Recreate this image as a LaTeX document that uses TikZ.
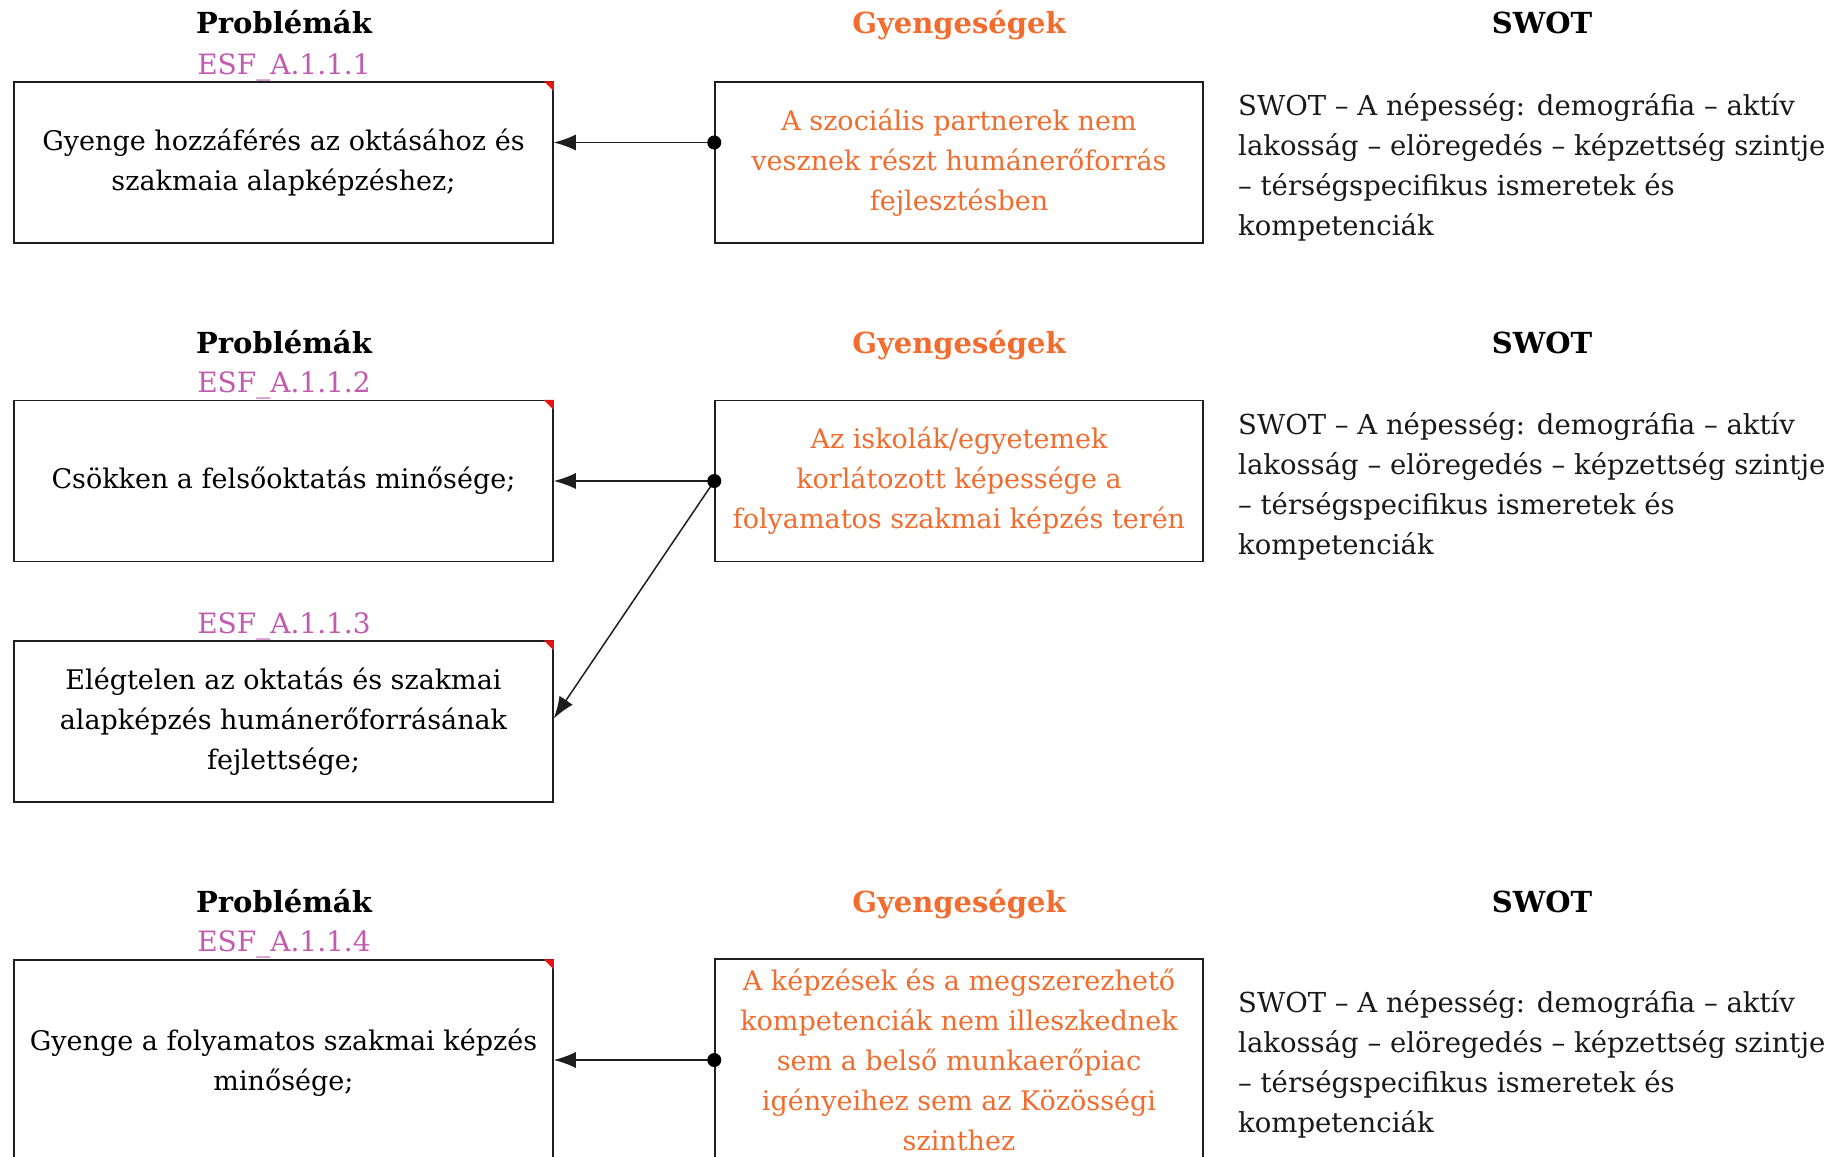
\documentclass[tikz,border=0pt]{standalone}
\usepackage{fontspec}
\setmainfont{DejaVu Serif}
\usetikzlibrary{arrows.meta}
\definecolor{orng}{RGB}{242,108,46}
\definecolor{mag}{RGB}{194,90,176}
\definecolor{redc}{RGB}{232,20,20}
\definecolor{edge}{RGB}{30,30,30}
\tikzset{
  body/.style={font=\fontsize{27}{40}\selectfont},
  probbox/.style={body, draw=edge, line width=1.5pt, minimum width=539pt, minimum height=161pt, inner sep=0pt, align=center, text=black},
  weakbox/.style={body, draw=edge, line width=1.5pt, minimum width=488pt, minimum height=161pt, inner sep=0pt, align=center, text=orng},
  swottext/.style={font=\fontsize{27.5}{40}\selectfont, anchor=north west, align=left, inner sep=0pt, text=black!90},
  hdr/.style={font=\bfseries\fontsize{29}{34}\selectfont, inner sep=0pt, anchor=base},
  esf/.style={font=\fontsize{28}{32}\selectfont, text=mag, inner sep=0pt, anchor=base},
  conn/.style={draw=edge, line width=1.5pt, -{Latex[length=22pt,width=16pt]}},
  dot/.style={fill=black},
  corner/.style={fill=redc}
}
\begin{document}
\begin{tikzpicture}[x=1pt,y=-1pt]
\useasboundingbox (0,0) rectangle (1840,1157);
\clip (0,0) rectangle (1840,1157);
\fill[white] (0,0) rectangle (1840,1157);

% ---- row 1
\node[hdr] (h1p) at (284,33) {Problémák};
\node[hdr, text=orng] (h1g) at (959,33) {Gyengeségek};
\node[hdr] (h1s) at (1542,33) {SWOT};
\node[esf] (e1) at (284,74) {ESF\_A.1.1.1};
\node[probbox] (P1) at (283.5,162.5) {Gyenge hozzáférés az oktásához és\\szakmaia alapképzéshez;};
\node[weakbox] (W1) at (959,162.5) {A szociális partnerek nem\\vesznek részt humánerőforrás\\fejlesztésben};
\node[swottext] (S1) at (1238,93) {SWOT – A népesség: demográfia – aktív\\lakosság – elöregedés – képzettség szintje\\– térségspecifikus ismeretek és\\kompetenciák};
\fill[corner] (P1.north east) -- ++(-10,0) -- ++(10,10) -- cycle;
\coordinate (a1) at ([yshift=20pt]W1.west);
\draw[conn] (a1) -- (a1 -| P1.east);
\fill[dot] (a1) circle (7);

% ---- row 2
\node[hdr] (h2p) at (284,353) {Problémák};
\node[hdr, text=orng] (h2g) at (959,353) {Gyengeségek};
\node[hdr] (h2s) at (1542,353) {SWOT};
\node[esf] (e2) at (284,392) {ESF\_A.1.1.2};
\node[probbox] (P2) at (283.5,481) {Csökken a felsőoktatás minősége;};
\node[weakbox] (W2) at (959,481) {Az iskolák/egyetemek\\korlátozott képessége a\\folyamatos szakmai képzés terén};
\node[swottext] (S2) at (1238,412) {SWOT – A népesség: demográfia – aktív\\lakosság – elöregedés – képzettség szintje\\– térségspecifikus ismeretek és\\kompetenciák};
\fill[corner] (P2.north east) -- ++(-10,0) -- ++(10,10) -- cycle;
\draw[conn] (W2.west) -- (W2.west -| P2.east);

\node[esf] (e3) at (284,633) {ESF\_A.1.1.3};
\node[probbox] (P3) at (283.5,721.5) {Elégtelen az oktatás és szakmai\\alapképzés humánerőforrásának\\fejlettsége;};
\fill[corner] (P3.north east) -- ++(-10,0) -- ++(10,10) -- cycle;
\draw[conn] (W2.west) -- ([yshift=3pt]P3.east);
\fill[dot] (W2.west) circle (7);

% ---- row 3
\node[hdr] (h3p) at (284,912) {Problémák};
\node[hdr, text=orng] (h3g) at (959,912) {Gyengeségek};
\node[hdr] (h3s) at (1542,912) {SWOT};
\node[esf] (e4) at (284,951) {ESF\_A.1.1.4};
\node[probbox, minimum height=206pt] (P4) at (283.5,1063) {Gyenge a folyamatos szakmai képzés\\minősége;};
\node[weakbox, minimum height=202pt] (W4) at (959,1060) {A képzések és a megszerezhető\\kompetenciák nem illeszkednek\\sem a belső munkaerőpiac\\igényeihez sem az Közösségi\\szinthez};
\node[swottext] (S4) at (1238,990) {SWOT – A népesség: demográfia – aktív\\lakosság – elöregedés – képzettség szintje\\– térségspecifikus ismeretek és\\kompetenciák};
\fill[corner] (P4.north east) -- ++(-10,0) -- ++(10,10) -- cycle;
\coordinate (a4) at (W4.west);
\draw[conn] (a4) -- (a4 -| P4.east);
\fill[dot] (a4) circle (7);
\end{tikzpicture}
\end{document}
